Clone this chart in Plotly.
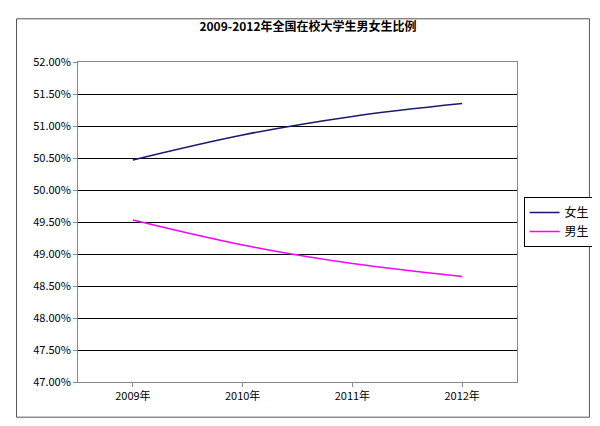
import plotly.graph_objects as go

years = ["2009年", "2010年", "2011年", "2012年"]
female = [50.47, 50.86, 51.15, 51.35]
male = [49.53, 49.14, 48.85, 48.65]
yticks = [47 + 0.5 * i for i in range(11)]

fig = go.Figure()
fig.add_trace(go.Scatter(x=years, y=female, name="女生", mode="lines",
                         line=dict(color="#1a1a6e", width=1.5, shape="spline")))
fig.add_trace(go.Scatter(x=years, y=male, name="男生", mode="lines",
                         line=dict(color="#ff00ff", width=1.5, shape="spline")))
font = "Noto Sans CJK SC"
fig.update_layout(
    width=600, height=426, paper_bgcolor="white", plot_bgcolor="white",
    margin=dict(l=70, r=82, t=54, b=52),
    font=dict(family=font, size=11, color="black"),
    title=dict(text="<b>2009-2012年全国在校大学生男女生比例</b>", x=0.5, xanchor="center",
               y=0.965, font=dict(size=12)),
    legend=dict(x=1.015, y=0.5, xanchor="left", yanchor="middle",
                bordercolor="black", borderwidth=1, font=dict(size=12),
                tracegroupgap=0),
    shapes=[dict(type="rect", xref="paper", yref="paper", x0=-0.14, x1=1.165,
                 y0=-0.11, y1=1.135, line=dict(color="#555", width=1))],
)
fig.update_xaxes(showline=True, linecolor="#888", mirror=True, ticks="outside",
                 ticklen=4, tickcolor="#888", range=[-0.5, 3.5])
fig.update_yaxes(range=[47, 52], tickvals=yticks,
                 ticktext=[f"{v:.2f}%" for v in yticks],
                 showgrid=True, gridcolor="black", gridwidth=1,
                 showline=True, linecolor="#888", mirror=True, ticks="outside",
                 ticklen=4, tickcolor="#888", zeroline=False)
fig.write_html("out.html")
